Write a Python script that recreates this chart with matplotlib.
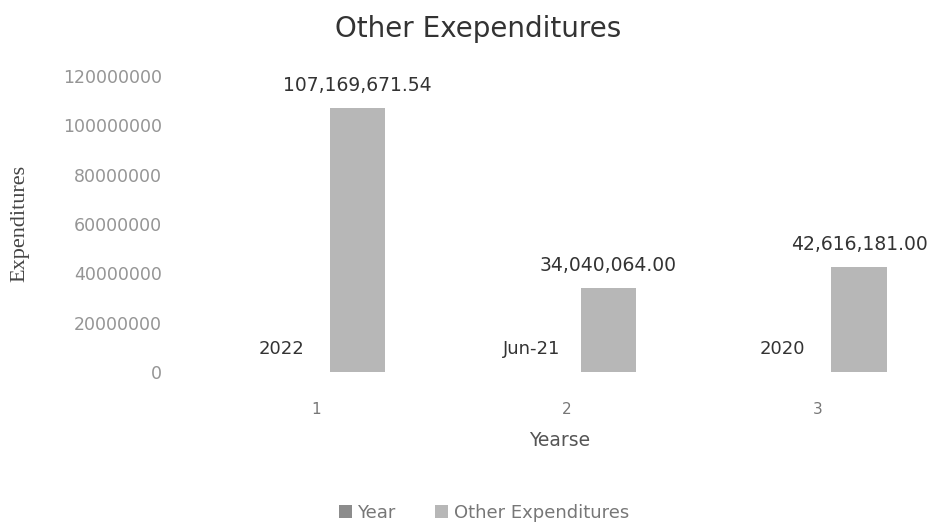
import numpy as np
import matplotlib
matplotlib.use("Agg")
import matplotlib.pyplot as plt

# data
categories = [1, 2, 3]
year_values = [2022, 2021, 2020]
year_labels = ["2022", "Jun-21", "2020"]
other_values = [107169671.54, 34040064.00, 42616181.00]
y_ticks = [0, 20000000, 40000000, 60000000, 80000000, 100000000, 120000000]

plt.rcParams['font.family'] = ['DejaVu Sans']

fig = plt.figure(figsize=(9.51, 5.26), dpi=100)
ax = fig.add_axes([0.185, 0.293, 0.8065, 0.5627])

x = np.array(categories, dtype=float)
w = 0.22
year_col = '#8c8c8c'
other_col = '#b7b7b7'

# the reference photo has the bars sitting right of the tick
year_x = x - 0.14
other_x = x + 0.165
ax.bar(year_x, year_values, width=w, color=year_col, label='Year')
ax.bar(other_x, other_values, width=w, color=other_col, label='Other Expenditures')

# data labels
for xi, lab in zip(year_x, year_labels):
    ax.annotate(lab, (xi, 0), xytext=(0, 10), textcoords='offset points',
                ha='center', va='bottom', fontsize=13, color='#333333')
for xi, v in zip(other_x, other_values):
    ax.annotate(f"{v:,.2f}", (xi, v), xytext=(0, 9), textcoords='offset points',
                ha='center', va='bottom', fontsize=13.5, color='#333333')

ax.set_xlim(0.44, 3.5)
ax.set_ylim(0, 120000000)
ax.set_yticks(y_ticks)
ax.set_yticklabels([str(t) for t in y_ticks], fontsize=12.5, color='#959595')
ax.set_xticks(x)
ax.set_xticklabels([str(c) for c in categories], fontsize=11, color='#777777')
ax.tick_params(axis='both', length=0)
ax.tick_params(axis='x', pad=22)
ax.tick_params(axis='y', pad=10)
for s in ax.spines.values():
    s.set_visible(False)

ax.set_xlabel("Yearse", fontsize=13.5, color='#555555', labelpad=10)
ax.set_ylabel("Expenditures", fontsize=16, color='#444444', family=['Liberation Serif', 'DejaVu Serif'],
              labelpad=24)
fig.text(0.503, 0.945, "Other Exependitures", ha='center', va='center', fontsize=20, color='#333333')

fig.legend(loc='center', bbox_to_anchor=(0.509, 0.025), ncol=2, frameon=False, fontsize=13,
           handlelength=0.7, handleheight=0.7, handletextpad=0.3, columnspacing=2.2,
           labelcolor='#777777')

fig.savefig("out.png", dpi=100)
